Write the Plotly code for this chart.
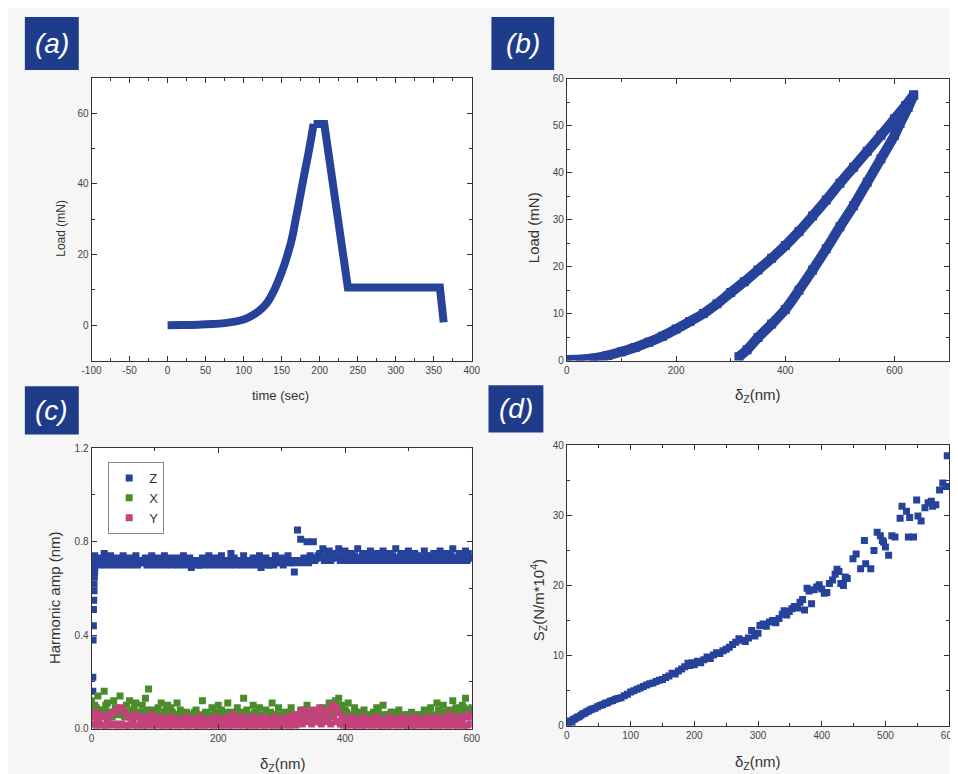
import plotly.graph_objects as go

# ---------------- Panel (a): load vs time ----------------
time_a = [0, 20, 40, 60, 75, 88, 100, 110, 120, 128, 134, 140, 145, 150, 154, 158, 162, 165, 168, 171, 174, 177, 180, 183, 186, 189, 192, 206, 237, 358, 363]
load_a = [0, 0.05, 0.15, 0.35, 0.6, 1.0, 1.6, 2.6, 4.0, 5.6, 7.4, 9.8, 12.3, 15.0, 17.4, 20.2, 23.2, 26.0, 29.5, 32.8, 36.2, 39.6, 43.0, 46.3, 49.6, 53.2, 57, 57, 10.7, 10.7, 0.8]
time_ticks = [-100, -50, 0, 50, 100, 150, 200, 250, 300, 350, 400]
time_tick_text = ["-100", "-50", "0", "50", "100", "150", "200", "250", "300", "350", "400"]

# ---------------- Panel (b): load vs displacement ----------------
dz_load = [0, 25, 50, 75, 100, 125, 150, 175, 200, 225, 250, 275, 300, 325, 350, 375, 400, 425, 450, 475, 500, 525, 550, 575, 600, 620, 635]
load_load = [0.1, 0.2, 0.5, 1.1, 1.9, 2.8, 3.9, 5.2, 6.7, 8.3, 10.0, 12.1, 14.5, 16.8, 19.3, 21.8, 24.5, 27.5, 30.8, 34.2, 37.8, 41.2, 44.6, 48.0, 51.5, 54.3, 56.6]
dz_unload = [635, 625, 610, 600, 575, 550, 525, 500, 475, 450, 425, 400, 375, 350, 330, 315]
load_unload = [56.6, 54.0, 50.5, 48.0, 43.0, 38.0, 33.0, 28.5, 23.8, 19.3, 15.0, 10.9, 7.8, 4.9, 2.3, 0.8]

# ---------------- Panel (c): harmonic amplitudes ----------------
x_c = [0, 5, 10, 15, 20, 25, 30, 35, 40, 45, 50, 55, 60, 65, 70, 75, 80, 85, 90, 95,
       100, 105, 110, 115, 120, 125, 130, 135, 140, 145, 150, 155, 160, 165, 170, 175, 180, 185, 190, 195,
       200, 205, 210, 215, 220, 225, 230, 235, 240, 245, 250, 255, 260, 265, 270, 275, 280, 285, 290, 295,
       300, 305, 310, 315, 320, 325, 330, 335, 340, 345, 350, 355, 360, 365, 370, 375, 380, 385, 390, 395,
       400, 405, 410, 415, 420, 425, 430, 435, 440, 445, 450, 455, 460, 465, 470, 475, 480, 485, 490, 495,
       500, 505, 510, 515, 520, 525, 530, 535, 540, 545, 550, 555, 560, 565, 570, 575, 580, 585, 590, 595, 600]
x_c_mid = [2.5, 7.5, 12.5, 17.5, 22.5, 27.5, 32.5, 37.5, 42.5, 47.5, 52.5, 57.5, 62.5, 67.5, 72.5, 77.5, 82.5, 87.5, 92.5, 97.5,
           102.5, 107.5, 112.5, 117.5, 122.5, 127.5, 132.5, 137.5, 142.5, 147.5, 152.5, 157.5, 162.5, 167.5, 172.5, 177.5, 182.5, 187.5, 192.5, 197.5,
           202.5, 207.5, 212.5, 217.5, 222.5, 227.5, 232.5, 237.5, 242.5, 247.5, 252.5, 257.5, 262.5, 267.5, 272.5, 277.5, 282.5, 287.5, 292.5, 297.5,
           302.5, 307.5, 312.5, 317.5, 322.5, 327.5, 332.5, 337.5, 342.5, 347.5, 352.5, 357.5, 362.5, 367.5, 372.5, 377.5, 382.5, 387.5, 392.5, 397.5,
           402.5, 407.5, 412.5, 417.5, 422.5, 427.5, 432.5, 437.5, 442.5, 447.5, 452.5, 457.5, 462.5, 467.5, 472.5, 477.5, 482.5, 487.5, 492.5, 497.5,
           502.5, 507.5, 512.5, 517.5, 522.5, 527.5, 532.5, 537.5, 542.5, 547.5, 552.5, 557.5, 562.5, 567.5, 572.5, 577.5, 582.5, 587.5, 592.5, 597.5]

# Z: initial rise near contact
z_rise_x = [2, 2, 2.5, 3, 3, 3.5, 4, 4, 4.5, 5, 5]
z_rise_y = [0.16, 0.22, 0.38, 0.44, 0.51, 0.55, 0.59, 0.62, 0.65, 0.67, 0.69]
z_main = [0.72, 0.74, 0.71, 0.73, 0.75, 0.72, 0.74, 0.71, 0.73, 0.72, 0.74, 0.71, 0.73, 0.72, 0.74, 0.72, 0.71, 0.73, 0.72, 0.74,
          0.71, 0.73, 0.72, 0.74, 0.71, 0.73, 0.72, 0.73, 0.71, 0.74, 0.72, 0.73, 0.71, 0.72, 0.70, 0.73, 0.72, 0.74, 0.71, 0.73,
          0.72, 0.74, 0.71, 0.72, 0.75, 0.73, 0.71, 0.72, 0.74, 0.72, 0.71, 0.73, 0.72, 0.74, 0.71, 0.73, 0.70, 0.72, 0.74, 0.71,
          0.73, 0.72, 0.74, 0.71, 0.67, 0.85, 0.81, 0.73, 0.80, 0.74, 0.80, 0.73, 0.75, 0.77, 0.74, 0.76, 0.73, 0.75, 0.77, 0.74,
          0.76, 0.73, 0.75, 0.74, 0.77, 0.73, 0.75, 0.74, 0.76, 0.72, 0.75, 0.74, 0.76, 0.73, 0.75, 0.74, 0.77, 0.73, 0.75, 0.74,
          0.76, 0.73, 0.75, 0.74, 0.72, 0.76, 0.74, 0.73, 0.75, 0.74, 0.76, 0.73, 0.75, 0.74, 0.77, 0.73, 0.75, 0.74, 0.76, 0.73, 0.75]
z_mid = [0.70, 0.72, 0.70, 0.71, 0.70, 0.72, 0.70, 0.71, 0.70, 0.72, 0.70, 0.71, 0.70, 0.72, 0.70, 0.71, 0.72, 0.70, 0.71, 0.70,
         0.72, 0.70, 0.71, 0.70, 0.72, 0.70, 0.71, 0.70, 0.72, 0.70, 0.71, 0.69, 0.71, 0.70, 0.72, 0.70, 0.71, 0.70, 0.72, 0.70,
         0.71, 0.70, 0.72, 0.70, 0.71, 0.70, 0.72, 0.70, 0.71, 0.70, 0.72, 0.70, 0.71, 0.69, 0.72, 0.70, 0.71, 0.70, 0.72, 0.71,
         0.70, 0.72, 0.71, 0.72, 0.71, 0.72, 0.71, 0.72, 0.71, 0.73, 0.72, 0.74, 0.73, 0.72, 0.74, 0.72, 0.73, 0.74, 0.72, 0.73,
         0.72, 0.74, 0.72, 0.73, 0.72, 0.74, 0.72, 0.73, 0.72, 0.74, 0.72, 0.73, 0.72, 0.74, 0.72, 0.73, 0.72, 0.74, 0.72, 0.73,
         0.72, 0.74, 0.72, 0.73, 0.72, 0.74, 0.72, 0.73, 0.72, 0.74, 0.72, 0.73, 0.72, 0.74, 0.72, 0.73, 0.72, 0.74, 0.72, 0.73]
x_upper = [0.12, 0.10, 0.14, 0.08, 0.16, 0.11, 0.07, 0.12, 0.09, 0.14, 0.06, 0.10, 0.12, 0.08, 0.11, 0.06, 0.10, 0.13, 0.17, 0.08,
           0.05, 0.09, 0.11, 0.07, 0.10, 0.09, 0.06, 0.11, 0.08, 0.05, 0.07, 0.04, 0.06, 0.08, 0.05, 0.12, 0.07, 0.05, 0.09, 0.06,
           0.10, 0.08, 0.04, 0.11, 0.07, 0.05, 0.09, 0.06, 0.13, 0.08, 0.04, 0.10, 0.06, 0.09, 0.05, 0.08, 0.04, 0.11, 0.06, 0.09,
           0.05, 0.07, 0.04, 0.09, 0.06, 0.03, 0.08, 0.05, 0.10, 0.04, 0.07, 0.05, 0.03, 0.09, 0.06, 0.11, 0.07, 0.12, 0.13, 0.10,
           0.08, 0.11, 0.06, 0.09, 0.07, 0.05, 0.08, 0.06, 0.04, 0.07, 0.09, 0.05, 0.10, 0.06, 0.04, 0.07, 0.05, 0.08, 0.04, 0.06,
           0.05, 0.07, 0.04, 0.06, 0.05, 0.08, 0.06, 0.09, 0.05, 0.11, 0.07, 0.10, 0.06, 0.08, 0.12, 0.09, 0.06, 0.10, 0.13, 0.08, 0.09]
x_lower = [0.07, 0.09, 0.06, 0.08, 0.10, 0.07, 0.05, 0.09, 0.06, 0.08, 0.05, 0.07, 0.06, 0.09, 0.05, 0.07, 0.06, 0.08, 0.05, 0.06,
           0.07, 0.05, 0.06, 0.08, 0.05, 0.07, 0.06, 0.05, 0.07, 0.04, 0.06, 0.05, 0.07, 0.04, 0.06, 0.05, 0.04, 0.06, 0.05, 0.07,
           0.05, 0.06, 0.07, 0.05, 0.04, 0.06, 0.05, 0.07, 0.05, 0.06, 0.04, 0.07, 0.05, 0.06, 0.04, 0.05, 0.07, 0.05, 0.06, 0.04,
           0.06, 0.05, 0.07, 0.04, 0.05, 0.06, 0.04, 0.07, 0.05, 0.06, 0.04, 0.05, 0.06, 0.07, 0.08, 0.06, 0.09, 0.07, 0.08, 0.06,
           0.07, 0.05, 0.06, 0.07, 0.05, 0.06, 0.04, 0.05, 0.06, 0.05, 0.07, 0.04, 0.06, 0.05, 0.07, 0.04, 0.06, 0.05, 0.04, 0.06,
           0.05, 0.04, 0.06, 0.05, 0.06, 0.05, 0.07, 0.05, 0.06, 0.08, 0.06, 0.07, 0.05, 0.07, 0.06, 0.08, 0.07, 0.09, 0.07, 0.08]
y_upper = [0.05, 0.07, 0.04, 0.06, 0.05, 0.04, 0.06, 0.07, 0.08, 0.09, 0.08, 0.06, 0.05, 0.04, 0.06, 0.05, 0.03, 0.05, 0.04, 0.06,
           0.04, 0.03, 0.05, 0.04, 0.03, 0.05, 0.04, 0.03, 0.04, 0.03, 0.05, 0.03, 0.04, 0.03, 0.05, 0.04, 0.03, 0.04, 0.03, 0.05,
           0.04, 0.03, 0.04, 0.05, 0.03, 0.06, 0.04, 0.03, 0.05, 0.04, 0.03, 0.05, 0.04, 0.03, 0.05, 0.04, 0.03, 0.04, 0.05, 0.03,
           0.04, 0.03, 0.05, 0.04, 0.06, 0.05, 0.07, 0.08, 0.06, 0.07, 0.08, 0.06, 0.09, 0.07, 0.05, 0.08, 0.10, 0.09, 0.07, 0.05,
           0.04, 0.03, 0.05, 0.04, 0.03, 0.04, 0.05, 0.03, 0.04, 0.03, 0.05, 0.04, 0.03, 0.04, 0.05, 0.03, 0.04, 0.03, 0.05, 0.04,
           0.03, 0.04, 0.05, 0.03, 0.04, 0.03, 0.05, 0.04, 0.03, 0.05, 0.04, 0.03, 0.05, 0.06, 0.04, 0.03, 0.05, 0.04, 0.05, 0.06, 0.05]
y_lower = [0.02, 0.01, 0.02, 0.015, 0.01, 0.02, 0.015, 0.02, 0.01, 0.02, 0.015, 0.01, 0.02, 0.015, 0.01, 0.02, 0.01, 0.015, 0.02, 0.01,
           0.02, 0.015, 0.01, 0.02, 0.01, 0.015, 0.02, 0.01, 0.02, 0.015, 0.01, 0.02, 0.015, 0.01, 0.02, 0.01, 0.015, 0.02, 0.01, 0.02,
           0.015, 0.01, 0.02, 0.01, 0.015, 0.02, 0.01, 0.02, 0.015, 0.01, 0.02, 0.01, 0.015, 0.02, 0.01, 0.02, 0.015, 0.01, 0.02, 0.01,
           0.015, 0.02, 0.01, 0.02, 0.015, 0.03, 0.02, 0.04, 0.03, 0.02, 0.04, 0.03, 0.02, 0.04, 0.03, 0.02, 0.05, 0.03, 0.02, 0.015,
           0.01, 0.02, 0.015, 0.01, 0.02, 0.01, 0.015, 0.02, 0.01, 0.02, 0.015, 0.01, 0.02, 0.01, 0.015, 0.02, 0.01, 0.02, 0.015, 0.01,
           0.02, 0.01, 0.015, 0.02, 0.01, 0.02, 0.015, 0.01, 0.02, 0.01, 0.015, 0.02, 0.01, 0.02, 0.015, 0.01, 0.02, 0.01, 0.015, 0.02]

# ---------------- Panel (d): contact stiffness ----------------
dz_d = [2, 5, 8, 10, 13, 16, 19, 22, 25, 28, 31, 34, 37, 40, 44, 48, 52, 56, 60, 64, 68, 72, 76, 80, 85, 90, 95,
        100, 105, 110, 115, 120, 125, 130, 135, 140, 145, 150, 155, 160, 165, 170, 175, 180, 185, 190, 193, 197,
        200, 205, 210, 215, 220, 225, 230, 235, 240, 245, 250, 255, 260, 265, 270, 275, 280, 285, 290, 295,
        300, 303, 308, 313, 318, 323, 328, 333, 338, 341, 345, 349, 353, 357, 362, 366, 370, 373, 377, 380, 384, 388, 392, 396,
        400, 404, 408, 412, 417, 421, 424, 427, 430, 434, 437, 440, 449, 454, 461, 467, 469, 477, 482, 487, 492, 495, 497,
        500, 505, 510, 515, 523, 526, 533, 536, 538, 544, 549, 551, 556, 562, 567, 572, 574, 579, 585, 590, 595, 597]
s_d = [0.4, 0.7, 0.5, 0.9, 1.0, 1.2, 1.3, 1.5, 1.7, 1.8, 2.0, 2.1, 2.3, 2.4, 2.5, 2.7, 2.9, 3.0, 3.2, 3.3, 3.5, 3.6, 3.8, 3.9, 4.0, 4.3, 4.5,
       4.8, 5.0, 5.2, 5.4, 5.6, 5.8, 6.0, 6.1, 6.3, 6.5, 6.6, 6.9, 7.1, 7.5, 7.4, 7.8, 8.1, 8.4, 8.9, 8.6, 9.0,
       8.7, 9.2, 9.0, 9.4, 9.8, 9.6, 10.1, 10.4, 10.3, 10.7, 10.9, 11.2, 11.6, 11.9, 12.4, 12.2, 12.0, 12.5, 13.6, 12.8,
       13.2, 14.3, 14.5, 14.2, 14.8, 15.0, 14.7, 15.3, 15.9, 16.4, 15.8, 16.3, 16.7, 17.0, 16.8, 17.6, 18.0, 16.5, 19.6, 19.2, 17.4, 19.4, 19.8, 20.1,
       19.5, 18.9, 19.0, 20.3, 20.8, 21.6, 22.3, 22.0, 20.3, 20.0, 21.2, 21.0, 23.8, 24.5, 22.4, 26.4, 23.1, 22.4, 25.0, 27.6, 27.1, 26.4, 26.2,
       25.5, 24.3, 27.1, 26.9, 29.6, 31.3, 30.6, 26.9, 29.7, 26.9, 32.2, 29.9, 29.2, 31.1, 31.8, 32.0, 31.3, 31.5, 33.6, 34.6, 34.1, 38.5]

BLUE = "#26429a"
GREEN = "#4a8c2c"
PINK = "#c4427c"
BOX = "#1e3c8a"
FONT = "Liberation Sans, Arial, sans-serif"
W, H = 958, 774

fig = go.Figure()

# rising part (smooth) and the hold/unload part (straight segments) of the load-time curve
split = time_a.index(192)
fig.add_trace(go.Scatter(x=time_a[:split + 1], y=load_a[:split + 1], mode="lines",
                         line=dict(color=BLUE, width=8, shape="spline", smoothing=1.0),
                         xaxis="x", yaxis="y", showlegend=False))
fig.add_trace(go.Scatter(x=time_a[split:], y=load_a[split:], mode="lines", line=dict(color=BLUE, width=8),
                         xaxis="x", yaxis="y", showlegend=False))
fig.add_trace(go.Scatter(x=dz_load, y=load_load, mode="lines+markers", line=dict(color=BLUE, width=10, shape="spline"),
                         marker=dict(symbol="square", size=9, color=BLUE), xaxis="x2", yaxis="y2", showlegend=False))
fig.add_trace(go.Scatter(x=dz_unload, y=load_unload, mode="lines+markers", line=dict(color=BLUE, width=10, shape="spline"),
                         marker=dict(symbol="square", size=9, color=BLUE), xaxis="x2", yaxis="y2", showlegend=False))

msq = dict(symbol="square", size=7, line=dict(width=0))
fig.add_trace(go.Scatter(x=z_rise_x + x_c + x_c_mid, y=z_rise_y + z_main + z_mid, mode="markers", name="Z",
                         marker=dict(color=BLUE, **msq), xaxis="x3", yaxis="y3"))
fig.add_trace(go.Scatter(x=x_c + x_c_mid, y=x_upper + x_lower, mode="markers", name="X",
                         marker=dict(color=GREEN, **msq), xaxis="x3", yaxis="y3"))
fig.add_trace(go.Scatter(x=x_c + x_c_mid, y=y_upper + y_lower, mode="markers", name="Y",
                         marker=dict(color=PINK, **msq), xaxis="x3", yaxis="y3"))

fig.add_trace(go.Scatter(x=dz_d, y=s_d, mode="markers", marker=dict(color=BLUE, **msq),
                         xaxis="x4", yaxis="y4", showlegend=False))


def px_x(a, b):
    return [a / W, b / W]


def px_y(top, bottom):
    return [1 - bottom / H, 1 - top / H]


def ax(domain, rng, dtick, minor, anchor, fmt=None):
    d = dict(domain=domain, range=rng, dtick=dtick, tick0=0, anchor=anchor,
             showgrid=False, zeroline=False, showline=True, linecolor="#333", linewidth=1,
             mirror="ticks", ticks="inside", ticklen=5, tickcolor="#333", tickwidth=1,
             tickfont=dict(family=FONT, size=10, color="#444"),
             minor=dict(dtick=minor, tick0=0, ticks="inside", ticklen=3, tickcolor="#333", showgrid=False))
    if fmt:
        d["tickformat"] = fmt
    return d


xa = ax(px_x(75, 463), [-100, 400], 50, 25, "y")
xa.update(tickmode="array", tickvals=time_ticks, ticktext=time_tick_text)

layout = dict(
    width=W, height=H, margin=dict(l=0, r=0, t=0, b=0),
    paper_bgcolor="#f6f6f6", plot_bgcolor="white",
    font=dict(family=FONT, color="#222"),
    xaxis=xa,
    yaxis=ax(px_y(65, 352), [-10, 70], 20, 10, "x"),
    xaxis2=ax(px_x(560, 950), [0, 700], 200, 100, "y2"),
    yaxis2=ax(px_y(66, 352), [0, 60], 10, 5, "x2"),
    xaxis3=ax(px_x(75, 463), [0, 600], 200, 100, "y3"),
    yaxis3=ax(px_y(441, 726), [0, 1.2], 0.4, 0.2, "x3", ".1f"),
    xaxis4=ax(px_x(560, 950), [0, 600], 100, 50, "y4"),
    yaxis4=ax(px_y(438, 723), [0, 40], 10, 5, "x4"),
    legend=dict(x=92 / W, y=1 - 455 / H, xanchor="left", yanchor="top",
                bgcolor="white", bordercolor="#888", borderwidth=1,
                font=dict(family=FONT, size=13, color="#333"),
                itemwidth=30, tracegroupgap=0),
)
fig.update_layout(**layout)

# panel label boxes
boxes = [("(a)", 7, 62, 3, 57), ("(b)", 483, 547, 3, 57), ("(c)", 7, 62, 378, 427), ("(d)", 480, 536, 377, 425)]
shapes = []
annotations = []
for txt, x0, x1, y0, y1 in boxes:
    shapes.append(dict(type="rect", xref="paper", yref="paper", x0=x0 / W, x1=x1 / W,
                       y0=1 - y1 / H, y1=1 - y0 / H, fillcolor=BOX, line=dict(width=0), layer="below"))
    annotations.append(dict(text=txt, xref="paper", yref="paper", x=(x0 + x1) / 2 / W, y=1 - (y0 + y1) / 2 / H,
                            xanchor="center", yanchor="middle", showarrow=False,
                            font=dict(family=FONT, size=28, color="white", style="italic")))

titles = [
    ("time (sec)", 268, 387, 0, 13),
    ("Load (mN)", 43, 218, -90, 12),
    ("δ<sub>Z</sub>(nm)", 755, 388, 0, 15),
    ("Load (mN)", 526, 217, -90, 15),
    ("δ<sub>Z</sub>(nm)", 270, 762, 0, 15),
    ("Harmonic amp (nm)", 38, 593, -90, 15),
    ("δ<sub>Z</sub>(nm)", 755, 760, 0, 15),
    ("S<sub>Z</sub>(N/m*10<sup>4</sup>)", 531, 595, -90, 15),
]
for txt, x, y, ang, sz in titles:
    annotations.append(dict(text=txt, xref="paper", yref="paper", x=x / W, y=1 - y / H,
                            xanchor="center", yanchor="middle", showarrow=False, textangle=ang,
                            font=dict(family=FONT, size=sz, color="#333")))

fig.update_layout(shapes=shapes, annotations=annotations)
fig.write_html("out.html")
